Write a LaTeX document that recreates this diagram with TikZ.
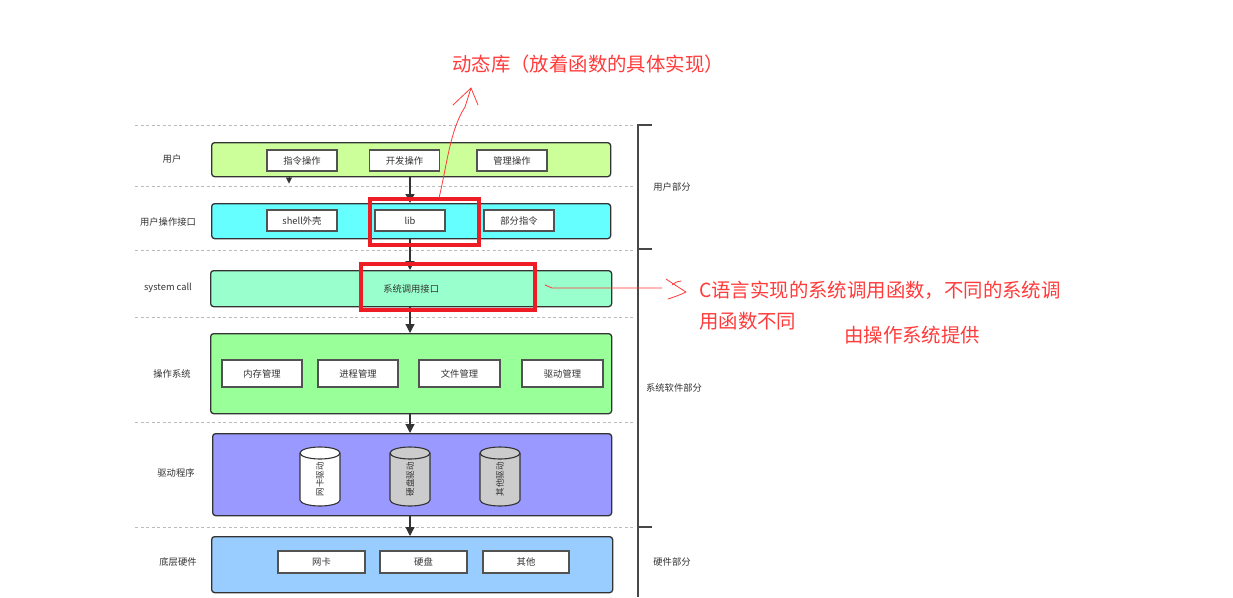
\documentclass[tikz,border=0pt]{standalone}
\usepackage{fontspec}
\setmainfont{Noto Sans CJK SC}
\usetikzlibrary{arrows.meta,calc}
\definecolor{cA}{HTML}{CCFF99}
\definecolor{cB}{HTML}{66FFFF}
\definecolor{cC}{HTML}{99FFCC}
\definecolor{cD}{HTML}{99FF99}
\definecolor{cE}{HTML}{9999FF}
\definecolor{cF}{HTML}{99CCFF}
\definecolor{edge}{HTML}{333333}
\definecolor{txt}{HTML}{333333}
\definecolor{dash}{HTML}{BBBBBB}
\definecolor{ann}{HTML}{FF3B3B}
\definecolor{redbox}{HTML}{EE1C25}
\definecolor{cylgray}{HTML}{CCCCCC}
\tikzset{
  layer/.style={draw=edge, line width=1.3pt, rounded corners=3pt, inner sep=0pt, anchor=north west, text=txt, font=\fontsize{9.3}{10}\selectfont},
  item/.style={draw=edge!85, fill=white, line width=1.3pt, inner sep=0pt, text=txt, font=\fontsize{9.3}{10}\selectfont},
  lbl/.style={text=txt, font=\fontsize{9.3}{10}\selectfont, inner sep=0pt},
  sep/.style={draw=dash, line width=0.9pt, dash pattern=on 3pt off 2.5pt},
  arr/.style={draw=edge, line width=1.2pt, -{Triangle[length=9pt,width=9pt]}},
  hl/.style={draw=redbox, line width=3.5pt, inner sep=0pt},
  note/.style={text=ann, font=\fontsize{19.4}{21}\selectfont, inner sep=0pt, anchor=west},
  pen/.style={draw=ann, line width=0.8pt, line cap=round, line join=round},
}
\newcommand{\mycyl}[4]{%
  \filldraw[draw=edge, line width=1.1pt, fill=#2]
    (#1-20,-453) -- (#1-20,-500) arc[start angle=180, end angle=360, x radius=20pt, y radius=6pt]
    -- (#1+20,-453) arc[start angle=0, end angle=180, x radius=20pt, y radius=6pt] -- cycle;
  \draw[draw=edge, line width=1.1pt] (#1-20,-453) arc[start angle=180, end angle=360, x radius=20pt, y radius=6pt];
  \node[lbl, rotate=90, font=\fontsize{8.5}{9}\selectfont] (#4) at (#1,-479) {#3};
}
\begin{document}
\begin{tikzpicture}[x=1pt,y=1pt]
\useasboundingbox[fill=white] (0,0) rectangle (1233,-597);

% dashed separators
\foreach \yy in {125,186,250,317,422,527} {
  \draw[sep] (135,-\yy) -- (635,-\yy);
}

% bracket on the right
\coordinate (brT) at (638,-124);
\coordinate (brB) at (638,-597);
\draw[draw=edge!90, line width=1.5pt] (brT) -- (brB);
\coordinate (k1) at (638,-125); \coordinate (k1e) at (652,-125);
\coordinate (k2) at (638,-249); \coordinate (k2e) at (652,-249);
\coordinate (k3) at (638,-527); \coordinate (k3e) at (652,-527);
\draw[draw=edge!90, line width=1.5pt] (k1) -- (k1e);
\draw[draw=edge!90, line width=1.5pt] (k2) -- (k2e);
\draw[draw=edge!90, line width=1.5pt] (k3) -- (k3e);
\node[lbl] (s1) at (672,-187) {用户部分};
\node[lbl] (s2) at (674,-388) {系统软件部分};
\node[lbl] (s3) at (672,-562) {硬件部分};

% row labels
\node[lbl] (r1) at (172,-159) {用户};
\node[lbl] (r2) at (168,-222) {用户操作接口};
\node[lbl] (r3) at (168,-288) {system call};
\node[lbl] (r4) at (172,-374) {操作系统};
\node[lbl] (r5) at (176,-473) {驱动程序};
\node[lbl] (r6) at (178,-562) {底层硬件};

% layers
\node[layer, fill=cA, minimum width=399pt, minimum height=34pt] (b1) at (211,-142) {};
\node[layer, fill=cB, minimum width=399pt, minimum height=35pt] (b2) at (211,-203) {};
\node[layer, fill=cC, minimum width=401pt, minimum height=36pt] (b3) at (210,-270) {系统调用接口};
\node[layer, fill=cD, minimum width=401pt, minimum height=80pt] (b4) at (210,-333) {};
\node[layer, fill=cE, minimum width=399pt, minimum height=82pt] (b5) at (212,-433) {};
\node[layer, fill=cF, minimum width=401pt, minimum height=56pt] (b6) at (211,-536) {};

% items row 1
\node[item, minimum width=70pt, minimum height=21pt] (i11) at (302,-160.5) {指令操作};
\node[item, minimum width=70pt, minimum height=21pt] (i12) at (404.5,-160.5) {开发操作};
\node[item, minimum width=70pt, minimum height=21pt] (i13) at (512,-160.5) {管理操作};
% items row 2
\node[item, minimum width=70pt, minimum height=21pt] (i21) at (302,-220.5) {shell外壳};
\node[item, minimum width=70pt, minimum height=21pt] (i22) at (410,-220.5) {lib};
\node[item, minimum width=70pt, minimum height=21pt] (i23) at (519,-220.5) {部分指令};
% items row 4
\node[item, minimum width=80pt, minimum height=27pt] (i41) at (262,-373.5) {内存管理};
\node[item, minimum width=80pt, minimum height=27pt] (i42) at (358,-373.5) {进程管理};
\node[item, minimum width=81pt, minimum height=27pt] (i43) at (459.5,-373.5) {文件管理};
\node[item, minimum width=81pt, minimum height=27pt] (i44) at (562.5,-373.5) {驱动管理};
% cylinders
\mycyl{320}{white}{网卡驱动}{c1}
\mycyl{410}{cylgray}{硬盘驱动}{c2}
\mycyl{500}{cylgray}{其他驱动}{c3}
% items row 6
\node[item, minimum width=87pt, minimum height=22pt] (i61) at (321.5,-562) {网卡};
\node[item, minimum width=87pt, minimum height=22pt] (i62) at (423.5,-562) {硬盘};
\node[item, minimum width=86pt, minimum height=22pt] (i63) at (526,-562) {其他};

% arrows
\coordinate (ax) at (410,0);
\draw[arr] (ax |- b1.south) -- (ax |- b2.north);
\draw[arr] (ax |- b2.south) -- (ax |- b3.north);
\draw[arr] (ax |- b3.south) -- (ax |- b4.north);
\draw[arr] (ax |- b4.south) -- (ax |- b5.north);
\draw[arr] (ax |- b5.south) -- (ax |- b6.north);
\coordinate (tipA) at (289,-183.5);
\draw[draw=edge, line width=0.1pt, -{Triangle[length=6pt,width=6pt]}] (tipA |- b1.south) -- (tipA);

% red highlight boxes
\node[hl, minimum width=109pt, minimum height=46pt] (h1) at (424.5,-222) {};
\node[hl, minimum width=174pt, minimum height=46pt] (h2) at (448,-287) {};

% annotation 1
\node[note] (n1) at (452,-64) {动态库（放着函数的具体实现）};
\coordinate (p0) at (439,-198);
\coordinate (tip1) at (471,-88);
\draw[pen] (p0) .. controls (447,-165) and (450,-130) .. (465,-107) -- (tip1);
\draw[pen] (453,-105) -- (tip1) -- (478,-105);

% annotation 2
\coordinate (q0) at (545,-285);
\coordinate (q1) at (662,-288);
\draw[pen] (q0) -- (552,-288) -- (q1);
\draw[pen] (666,-279) .. controls (672,-283) and (678,-287) .. (686,-292) .. controls (680,-295) and (674,-297) .. (668,-299);
\draw[pen] (672,-285) .. controls (676,-282) and (678,-281) .. (681,-281);
\node[note] (n2) at (699,-290) {C语言实现的系统调用函数，不同的系统调};
\node[note] (n3) at (699,-321) {用函数不同};
\node[note] (n4) at (844,-335) {由操作系统提供};
\end{tikzpicture}
\end{document}
